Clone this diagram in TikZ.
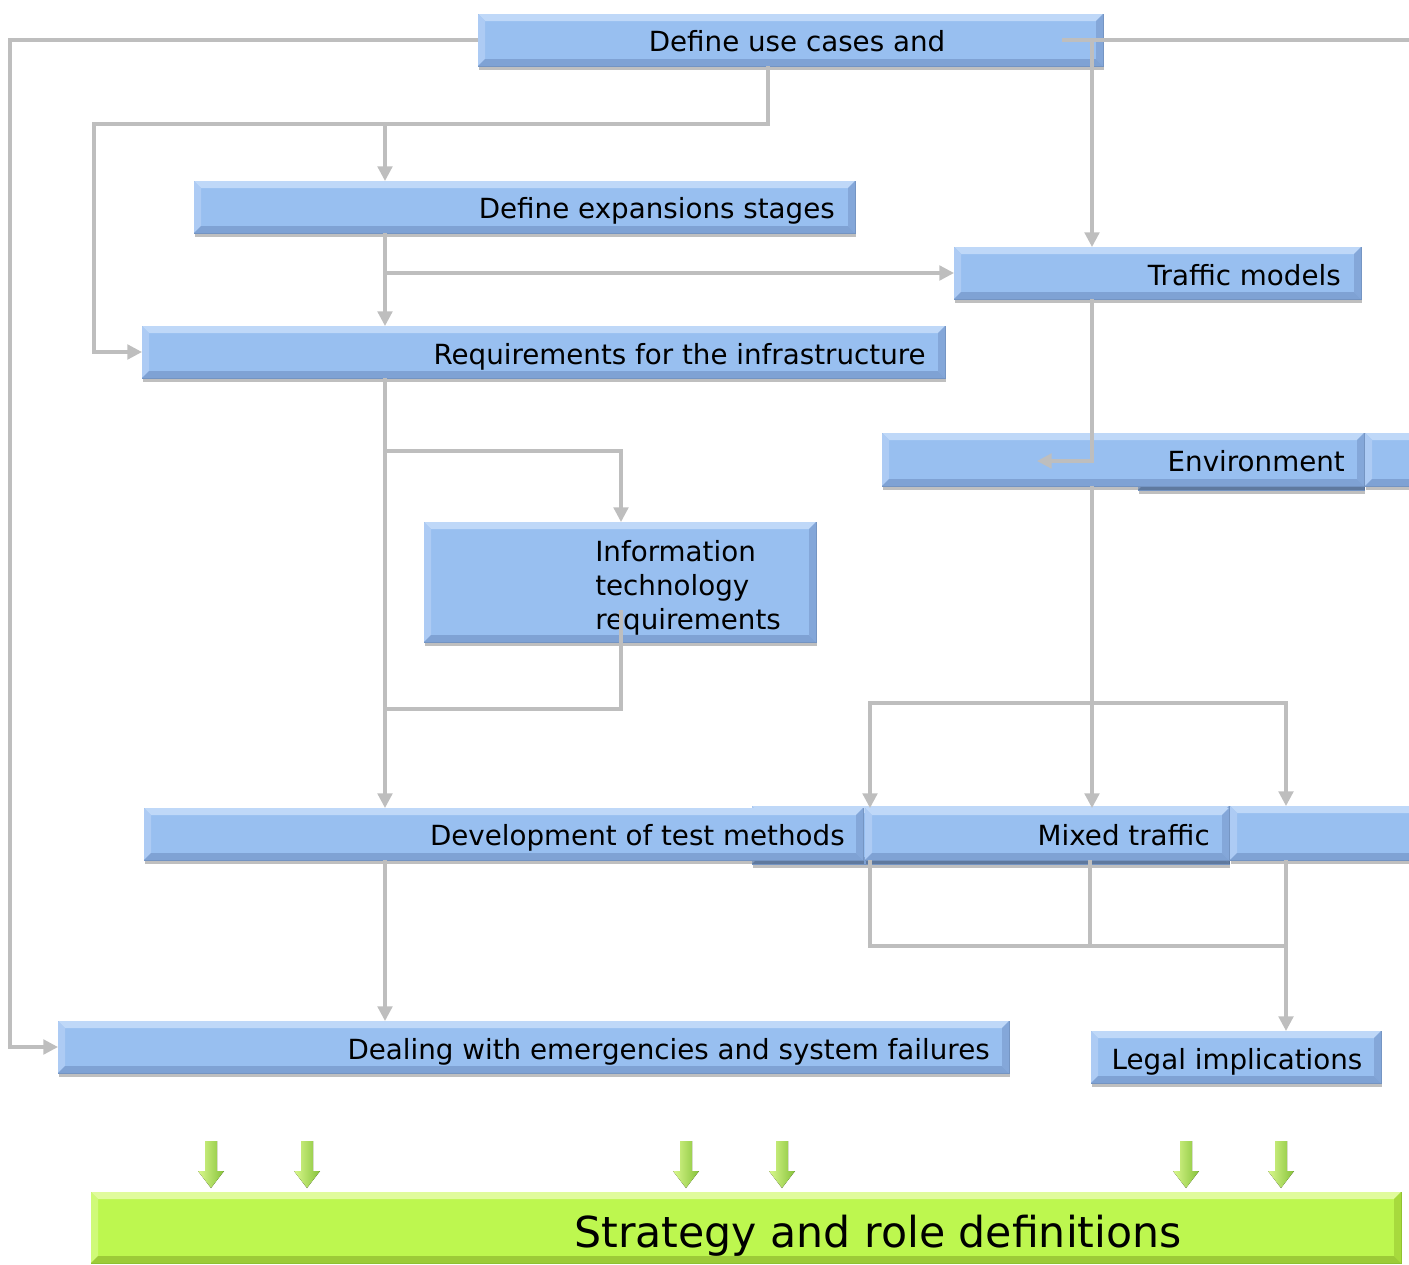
\documentclass[tikz,border=0pt]{standalone}
\usepackage{fontspec}
\setmainfont{DejaVu Sans}
\usetikzlibrary{arrows.meta,shadows,calc}
\definecolor{bxblue}{HTML}{98BFF0}
\definecolor{bxedge}{HTML}{7393C0}
\definecolor{btop}{HTML}{BFD8F8}
\definecolor{bleft}{HTML}{ADCBF4}
\definecolor{bright}{HTML}{84A7D9}
\definecolor{bbot}{HTML}{7FA2D4}
\definecolor{grfill}{HTML}{BDF74F}
\definecolor{gredge}{HTML}{8DBF30}
\definecolor{gtop}{HTML}{E0FB9C}
\definecolor{gleft}{HTML}{CFFA78}
\definecolor{gright}{HTML}{A7DA3D}
\definecolor{gbot}{HTML}{9CCB38}
\definecolor{ga1}{HTML}{D9F88C}
\definecolor{ga2}{HTML}{86C23A}
\definecolor{lngray}{HTML}{BEBEBE}
\tikzset{
  box/.style={draw=bxedge, line width=0.6pt, fill=bxblue, inner sep=0pt, outer sep=0pt,
    drop shadow={shadow xshift=0.8pt, shadow yshift=-3pt, opacity=0.25, fill=black}},
  gbox/.style={draw=gredge, line width=0.6pt, fill=grfill, inner sep=0pt, outer sep=0pt},
  conn/.style={draw=lngray, line width=2.4pt},
  arr/.style={conn, -{Triangle[width=11pt,length=11pt]}},
  lbl/.style={font=\fontsize{20.8}{25.5}\selectfont, inner sep=0pt, anchor=base east},
}
\newcommand\bev[2]{%
  \fill[#2top] (#1.north west) -- (#1.north east) -- ([shift={(-7,7)}]#1.north east) -- ([shift={(7,7)}]#1.north west) -- cycle;
  \fill[#2left] (#1.north west) -- ([shift={(7,7)}]#1.north west) -- ([shift={(7,-7)}]#1.south west) -- (#1.south west) -- cycle;
  \fill[#2right] (#1.north east) -- ([shift={(-7,7)}]#1.north east) -- ([shift={(-7,-7)}]#1.south east) -- (#1.south east) -- cycle;
  \fill[#2bot] (#1.south west) -- ([shift={(7,-7)}]#1.south west) -- ([shift={(-7,-7)}]#1.south east) -- (#1.south east) -- cycle;
}
\newcommand\mkbox[5]{%
  \node[box, minimum width={(#4-#2)*0.75pt}, minimum height={(#5-#3)*0.75pt}] (#1) at ({(#2+#4)/2},{(#3+#5)/2}) {};
  \bev{#1}{b}}
\newcommand\garrow[1]{%
  \fill[left color=ga1, right color=ga2] ({#1-6},1141) -- ({#1+6},1141) -- ({#1+6},1171) -- ({#1+13},1171) -- (#1,1188) -- ({#1-13},1171) -- ({#1-6},1171) -- cycle;}
\begin{document}
\begin{tikzpicture}[x=0.75pt, y=-0.75pt]
\useasboundingbox (0,0) rectangle (1409,1264);
\clip (0,0) rectangle (1409,1264);
% boxes
\mkbox{uc}{478}{14}{1103}{66}
\mkbox{es}{194}{181}{855}{233}
\mkbox{tm}{954}{247}{1361}{299}
\mkbox{ri}{142}{326}{945}{378}
\mkbox{envB}{1138}{437}{1364}{490}
\mkbox{env}{882}{433}{1364}{486}
\mkbox{envR}{1365}{433}{1440}{486}
\mkbox{it}{424}{522}{816}{642}
\mkbox{bh}{752}{806}{1229}{864}
\mkbox{dt}{144}{808}{863}{860}
\mkbox{mtR}{1230}{806}{1440}{860}
\mkbox{mt}{865}{808}{1229}{860}
\mkbox{dl}{58}{1021}{1009}{1073}
\mkbox{li}{1091}{1031}{1381}{1083}
\node[gbox, minimum width={(1401-91)*0.75pt}, minimum height={(1263-1192)*0.75pt}, anchor=north west] (sr) at (91,1192) {};
\bev{sr}{g}
% labels
\node[lbl, anchor=base] (uct) at (797,51) {Define use cases and};
\node[lbl] (est) at (835,218) {Define expansions stages};
\node[lbl] (tmt) at (1341,285) {Traffic models};
\node[lbl] (rit) at (926,364) {Requirements for the infrastructure};
\node[lbl] (envt) at (1345,471) {Environment};
\node[lbl, anchor=west, align=left] (itt) at (595,588) {Information\\technology\\requirements};
\node[lbl] (dtt) at (845,845) {Development of test methods};
\node[lbl] (mtt) at (1210,845) {Mixed traffic};
\node[lbl] (dlt) at (990,1059) {Dealing with emergencies and system failures};
\node[lbl, anchor=base] (lit) at (1237,1069) {Legal implications};
\node[inner sep=0pt, anchor=base, font=\fontsize{32}{38}\selectfont] (srt) at (878,1247) {Strategy and role definitions};
% coordinates
\coordinate (xL) at (10,0);
\coordinate (xL2) at (94,0);
\coordinate (xA) at (385,0);
\coordinate (xB) at (621,0);
\coordinate (xC) at (768,0);
\coordinate (xD) at (870,0);
\coordinate (xE) at (1092,0);
\coordinate (xE2) at (1090,0);
\coordinate (xF) at (1286,0);
\coordinate (y124) at (0,124);
\coordinate (y273) at (0,273);
\coordinate (y451) at (0,451);
\coordinate (y461) at (0,461);
\coordinate (y610) at (0,610);
\coordinate (y703) at (0,703);
\coordinate (y709) at (0,709);
\coordinate (y946) at (0,946);
\coordinate (ucR) at (1062,40);
\coordinate (offR) at (1420,40);
\coordinate (envTip) at (1037,461);
% connectors
\draw[arr] (uc.west) -| (xL |- dl.west) -- (dl.west);
\draw[conn] (ucR) -- (offR);
\draw[arr] (xE |- uc.center) -- (xE |- tm.north);
\draw[arr] (xC |- uc.south) -- (xC |- y124) -| (xL2 |- ri.west) -- (ri.west);
\draw[arr] (xA |- y124) -- (xA |- es.north);
\draw[arr] (xA |- es.south) -- (xA |- ri.north);
\draw[arr] (xA |- y273) -- (tm.west);
\draw[arr] (xA |- ri.south) -- (xA |- dt.north);
\draw[arr] (xA |- y451) -| (xB |- it.north);
\draw[conn] (xB |- y610) |- (xA |- y709);
\draw[arr] (xE |- tm.south) |- (envTip);
\draw[arr] (xE |- env.south) -- (xE |- mt.north);
\draw[arr] (xE |- y703) -| (xD |- mt.north);
\draw[arr] (xE |- y703) -| (xF |- mtR.north);
\draw[arr] (xA |- dt.south) -- (xA |- dl.north);
\draw[conn] (xD |- mt.south) |- (xF |- y946);
\draw[conn] (xE2 |- mt.south) -- (xE2 |- y946);
\draw[arr] (xF |- mtR.south) -- (xF |- li.north);
% green arrows
\garrow{211}\garrow{307}\garrow{686}\garrow{782}\garrow{1186}\garrow{1281}
\end{tikzpicture}
\end{document}
